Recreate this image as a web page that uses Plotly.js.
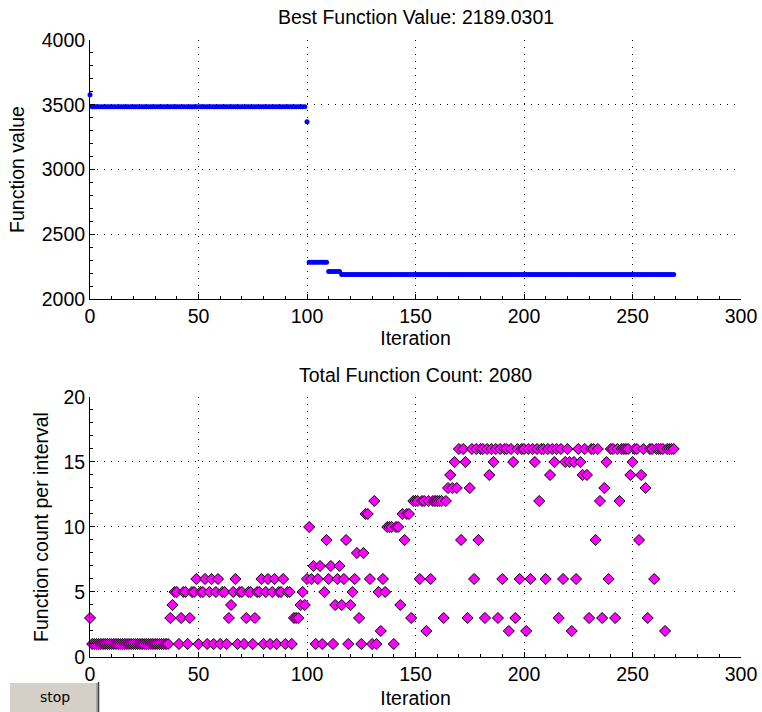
<!DOCTYPE html>
<html>
<head>
<meta charset="utf-8">
<script src="https://cdn.plot.ly/plotly-3.0.1.min.js"></script>
<style>
  html, body { margin: 0; padding: 0; background: #fff; }
  #chart { width: 762px; height: 712px; }
</style>
</head>
<body>
<div id="chart"></div>
<script>
// ---- Data ----
// Iterations 0..269
const iterations = [
  0,1,2,3,4,5,6,7,8,9,10,11,12,13,14,15,16,17,18,19,20,21,22,23,24,25,26,27,28,29,
  30,31,32,33,34,35,36,37,38,39,40,41,42,43,44,45,46,47,48,49,50,51,52,53,54,55,56,57,58,59,
  60,61,62,63,64,65,66,67,68,69,70,71,72,73,74,75,76,77,78,79,80,81,82,83,84,85,86,87,88,89,
  90,91,92,93,94,95,96,97,98,99,100,101,102,103,104,105,106,107,108,109,110,111,112,113,114,115,116,117,118,119,
  120,121,122,123,124,125,126,127,128,129,130,131,132,133,134,135,136,137,138,139,140,141,142,143,144,145,146,147,148,149,
  150,151,152,153,154,155,156,157,158,159,160,161,162,163,164,165,166,167,168,169,170,171,172,173,174,175,176,177,178,179,
  180,181,182,183,184,185,186,187,188,189,190,191,192,193,194,195,196,197,198,199,200,201,202,203,204,205,206,207,208,209,
  210,211,212,213,214,215,216,217,218,219,220,221,222,223,224,225,226,227,228,229,230,231,232,233,234,235,236,237,238,239,
  240,241,242,243,244,245,246,247,248,249,250,251,252,253,254,255,256,257,258,259,260,261,262,263,264,265,266,267,268,269
];

// Best function value per iteration (top panel)
const bestValue = [
  3578,3485,3485,3485,3485,3485,3485,3485,3485,3485,3485,3485,3485,3485,3485,3485,3485,3485,3485,3485,3485,3485,3485,3485,3485,3485,3485,3485,3485,3485,
  3485,3485,3485,3485,3485,3485,3485,3485,3485,3485,3485,3485,3485,3485,3485,3485,3485,3485,3485,3485,3485,3485,3485,3485,3485,3485,3485,3485,3485,3485,
  3485,3485,3485,3485,3485,3485,3485,3485,3485,3485,3485,3485,3485,3485,3485,3485,3485,3485,3485,3485,3485,3485,3485,3485,3485,3485,3485,3485,3485,3485,
  3485,3485,3485,3485,3485,3485,3485,3485,3485,3485,3369,2283,2283,2283,2283,2283,2283,2283,2283,2283,2213,2213,2213,2213,2213,2213,2189.03,2189.03,2189.03,2189.03,
  2189.03,2189.03,2189.03,2189.03,2189.03,2189.03,2189.03,2189.03,2189.03,2189.03,2189.03,2189.03,2189.03,2189.03,2189.03,2189.03,2189.03,2189.03,2189.03,2189.03,2189.03,2189.03,2189.03,2189.03,2189.03,2189.03,2189.03,2189.03,2189.03,2189.03,
  2189.03,2189.03,2189.03,2189.03,2189.03,2189.03,2189.03,2189.03,2189.03,2189.03,2189.03,2189.03,2189.03,2189.03,2189.03,2189.03,2189.03,2189.03,2189.03,2189.03,2189.03,2189.03,2189.03,2189.03,2189.03,2189.03,2189.03,2189.03,2189.03,2189.03,
  2189.03,2189.03,2189.03,2189.03,2189.03,2189.03,2189.03,2189.03,2189.03,2189.03,2189.03,2189.03,2189.03,2189.03,2189.03,2189.03,2189.03,2189.03,2189.03,2189.03,2189.03,2189.03,2189.03,2189.03,2189.03,2189.03,2189.03,2189.03,2189.03,2189.03,
  2189.03,2189.03,2189.03,2189.03,2189.03,2189.03,2189.03,2189.03,2189.03,2189.03,2189.03,2189.03,2189.03,2189.03,2189.03,2189.03,2189.03,2189.03,2189.03,2189.03,2189.03,2189.03,2189.03,2189.03,2189.03,2189.03,2189.03,2189.03,2189.03,2189.03,
  2189.03,2189.03,2189.03,2189.03,2189.03,2189.03,2189.03,2189.03,2189.03,2189.03,2189.03,2189.03,2189.03,2189.03,2189.03,2189.03,2189.03,2189.03,2189.03,2189.03,2189.03,2189.03,2189.03,2189.03,2189.03,2189.03,2189.03,2189.03,2189.03,2189.03
];

// Function count per interval (bottom panel)
const funcCount = [
  3,1,1,1,1,1,1,1,1,1,1,1,1,1,1,1,1,1,1,1,1,1,1,1,1,1,1,1,1,1,
  1,1,1,1,1,1,1,3,4,5,5,1,3,5,5,1,3,5,5,6,1,5,5,6,1,5,6,1,5,6,
  1,5,5,1,3,4,5,6,1,5,5,1,3,5,5,1,3,5,5,6,1,5,6,1,5,6,1,5,5,6,
  1,5,5,1,3,3,3,4,5,4,6,10,6,7,1,6,7,1,5,9,6,7,1,4,6,7,4,6,9,1,
  4,5,6,8,3,1,8,11,11,6,1,12,1,5,2,6,5,10,10,10,1,10,10,4,11,9,11,11,3,12,
  12,12,6,12,12,2,12,6,12,12,12,12,12,3,12,13,14,13,15,13,16,9,16,15,3,13,16,6,16,9,
  16,16,3,16,14,16,15,16,3,16,6,16,16,2,16,15,3,16,6,16,16,2,16,6,16,15,16,12,16,16,
  6,16,14,16,15,16,3,16,6,15,16,15,2,15,6,16,15,14,16,14,3,16,16,9,16,12,3,13,15,6,
  16,16,3,16,12,16,16,16,16,14,15,16,16,9,14,16,13,3,16,16,6,16,16,16,16,2,16,16,16,16
];

const topTitle = 'Best Function Value: 2189.0301';
const bottomTitle = 'Total Function Count: 2080';
const xLabel = 'Iteration';
const yLabelTop = 'Function value';
const yLabelBottom = 'Function count per interval';

// ---- Styling ----
const FONT = 'Liberation Sans, Arial, Helvetica, sans-serif';
const FS = 19.5;

function baseAxis(extra) {
  return Object.assign({
    showline: true, linecolor: '#000', linewidth: 1,
    ticks: 'inside', ticklen: 5, tickwidth: 1, tickcolor: '#000',
    showgrid: true, gridcolor: '#000', gridwidth: 1, griddash: '1px,6px',
    zeroline: false, mirror: false, fixedrange: true,
    tickfont: {family: FONT, size: FS, color: '#000'},
    layer: 'above traces'
  }, extra);
}

const traces = [
  {
    type: 'scatter', mode: 'markers',
    x: iterations, y: bestValue,
    xaxis: 'x', yaxis: 'y',
    marker: {symbol: 'circle', size: 5, color: '#0000ff', line: {width: 0}},
    cliponaxis: false, hoverinfo: 'x+y'
  },
  {
    type: 'scatter', mode: 'markers',
    x: iterations, y: funcCount,
    xaxis: 'x2', yaxis: 'y2',
    marker: {symbol: 'diamond', size: 8.5, color: '#ff00ff', line: {width: 1, color: '#000'}},
    cliponaxis: false, hoverinfo: 'x+y'
  }
];

const layout = {
  width: 762, height: 712,
  margin: {l: 90, r: 21, t: 40, b: 55, pad: 0},
  paper_bgcolor: '#fff', plot_bgcolor: '#fff',
  showlegend: false,
  font: {family: FONT, size: FS, color: '#000'},
  xaxis: baseAxis({
    domain: [0, 1], anchor: 'y', range: [0, 300], tick0: 0, dtick: 50,
    minor: {dtick: 10, ticks: 'inside', ticklen: 3, tickcolor: '#000', showgrid: false},
    title: {text: xLabel, font: {family: FONT, size: FS, color: '#000'}, standoff: 4}
  }),
  yaxis: baseAxis({
    domain: [0.5802, 1], anchor: 'x', range: [2000, 4000], tick0: 2000, dtick: 500,
    minor: {dtick: 100, ticks: 'inside', ticklen: 3, tickcolor: '#000', showgrid: false},
    title: {text: yLabelTop, font: {family: FONT, size: FS, color: '#000'}, standoff: 11}
  }),
  xaxis2: baseAxis({
    domain: [0, 1], anchor: 'y2', range: [0, 300], tick0: 0, dtick: 50,
    minor: {dtick: 10, ticks: 'inside', ticklen: 3, tickcolor: '#000', showgrid: false},
    title: {text: xLabel, font: {family: FONT, size: FS, color: '#000'}, standoff: 6}
  }),
  yaxis2: baseAxis({
    domain: [0, 0.4214], anchor: 'x2', range: [0, 20], tick0: 0, dtick: 5,
    minor: {dtick: 1, ticks: 'inside', ticklen: 3, tickcolor: '#000', showgrid: false},
    title: {text: yLabelBottom, font: {family: FONT, size: FS, color: '#000'}, standoff: 9}
  }),
  annotations: [
    {text: topTitle, xref: 'paper', yref: 'paper', x: 0.5, y: 1.0373,
     xanchor: 'center', yanchor: 'middle', showarrow: false,
     font: {family: FONT, size: FS, color: '#000'}},
    {text: bottomTitle, xref: 'paper', yref: 'paper', x: 0.5, y: 0.457,
     xanchor: 'center', yanchor: 'middle', showarrow: false,
     font: {family: FONT, size: FS, color: '#000'}},
    {text: 'stop', xref: 'paper', yref: 'paper', x: (55 - 90) / 651, y: (657 - 697) / 617,
     xanchor: 'center', yanchor: 'middle', showarrow: false,
     font: {family: 'DejaVu Sans, sans-serif', size: 14, color: '#000'}}
  ],
  shapes: [
    // stop button (UI control look-alike)
    {type: 'rect', xref: 'paper', yref: 'paper', layer: 'above',
     x0: (9 - 90) / 651, x1: (99 - 90) / 651, y0: (657 - 682) / 617, y1: (657 - 713) / 617,
     fillcolor: '#d4d0c8', line: {width: 0}},
    {type: 'line', xref: 'paper', yref: 'paper', layer: 'above',
     x0: (9 - 90) / 651, x1: (98 - 90) / 651, y0: (657 - 682.5) / 617, y1: (657 - 682.5) / 617,
     line: {color: '#ffffff', width: 1}},
    {type: 'line', xref: 'paper', yref: 'paper', layer: 'above',
     x0: (9.5 - 90) / 651, x1: (9.5 - 90) / 651, y0: (657 - 682) / 617, y1: (657 - 713) / 617,
     line: {color: '#ffffff', width: 1}},
    {type: 'line', xref: 'paper', yref: 'paper', layer: 'above',
     x0: (98.5 - 90) / 651, x1: (98.5 - 90) / 651, y0: (657 - 682) / 617, y1: (657 - 713) / 617,
     line: {color: '#404040', width: 1.5}},
    {type: 'line', xref: 'paper', yref: 'paper', layer: 'above',
     x0: (97 - 90) / 651, x1: (97 - 90) / 651, y0: (657 - 683) / 617, y1: (657 - 713) / 617,
     line: {color: '#808080', width: 1}}
  ]
};

Plotly.newPlot('chart', traces, layout, {displayModeBar: false, staticPlot: true});
</script>
</body>
</html>
